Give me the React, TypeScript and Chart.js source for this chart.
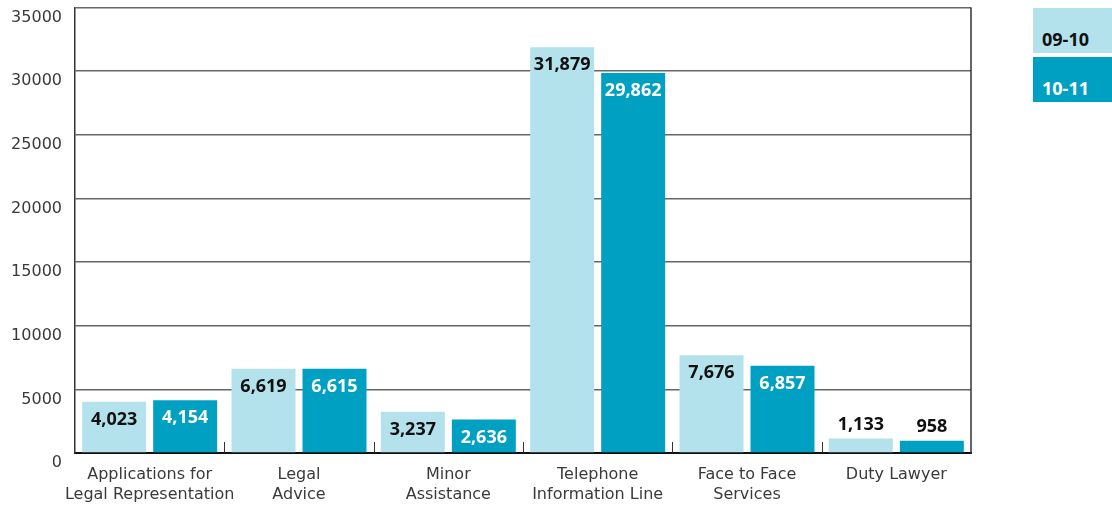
import React, { useEffect, useRef } from "react";
import { Chart, registerables } from "chart.js";

Chart.register(...registerables);

const categories: string[][] = [
  ["Applications for", "Legal Representation"],
  ["Legal", "Advice"],
  ["Minor", "Assistance"],
  ["Telephone", "Information Line"],
  ["Face to Face", "Services"],
  ["Duty Lawyer"],
];
const series0910: number[] = [4023, 6619, 3237, 31879, 7676, 1133];
const series1011: number[] = [4154, 6615, 2636, 29862, 6857, 958];
const seriesLabels: string[] = ["09-10", "10-11"];
const yTicks: number[] = [0, 5000, 10000, 15000, 20000, 25000, 30000, 35000];

const LIGHT = "#b3e1ec";
const DARK = "#00a0c2";
const AXIS_FONT = "'DejaVu Sans', sans-serif";
const BOLD_FONT = "'Open Sans', Lato, sans-serif";
const SHIFT = 15;

const fmt = (v: number) => v.toLocaleString("en-US");

const decorPlugin = {
  id: "decor",
  afterDatasetsDraw(chart: any) {
    const ctx = chart.ctx;
    const area = chart.chartArea;
    ctx.save();
    ctx.strokeStyle = "#333";
    ctx.lineWidth = 1.5;
    ctx.beginPath();
    ctx.moveTo(area.right, area.top);
    ctx.lineTo(area.right, area.bottom);
    ctx.stroke();
    ctx.lineWidth = 1;
    const n = chart.data.labels.length;
    const w = (area.right - area.left) / n;
    for (let i = 1; i < n; i++) {
      const x = Math.round(area.left + w * i) + 0.5;
      ctx.beginPath();
      ctx.moveTo(x, area.bottom);
      ctx.lineTo(x, area.bottom - 11);
      ctx.stroke();
    }
    ctx.font = `bold 18px ${BOLD_FONT}`;
    ctx.textAlign = "center";
    ctx.textBaseline = "middle";
    chart.data.datasets.forEach((ds: any, di: number) => {
      const meta = chart.getDatasetMeta(di);
      meta.data.forEach((bar: any, i: number) => {
        const v = ds.data[i];
        const h = bar.base - bar.y;
        if (h > 30) {
          ctx.fillStyle = di === 0 ? "#111" : "#fff";
          ctx.fillText(fmt(v), bar.x, bar.y + 18);
        } else {
          ctx.fillStyle = "#111";
          ctx.fillText(fmt(v), bar.x, bar.y - 14);
        }
      });
    });
    ctx.restore();
  },
};

export default function App() {
  const ref = useRef<HTMLCanvasElement | null>(null);
  useEffect(() => {
    if (!ref.current) return;
    const chart = new Chart(ref.current, {
      type: "bar",
      data: {
        labels: categories,
        datasets: [
          {
            label: seriesLabels[0],
            data: series0910,
            backgroundColor: LIGHT,
            categoryPercentage: 0.951,
            barPercentage: 0.901,
          },
          {
            label: seriesLabels[1],
            data: series1011,
            backgroundColor: DARK,
            categoryPercentage: 0.951,
            barPercentage: 0.901,
          },
        ],
      },
      options: {
        animation: false,
        responsive: false,
        maintainAspectRatio: false,
        layout: { padding: { top: 0, right: 141, left: 0, bottom: 0 } },
        plugins: {
          legend: { display: false },
          tooltip: { enabled: false },
        },
        scales: {
          x: {
            grid: { display: false, drawTicks: false },
            border: { display: true, color: "#111", width: 2 },
            ticks: {
              color: "#3a3a3a",
              font: { family: AXIS_FONT, size: 16, weight: "normal", lineHeight: 1.3 },
              padding: 11,
              maxRotation: 0,
              autoSkip: false,
            },
            afterFit(scale: any) {
              scale.height = 53;
            },
          },
          y: {
            min: 0,
            max: 35000,
            afterBuildTicks(scale: any) {
              scale.ticks = yTicks.map((v) => ({ value: v }));
            },
            grid: { color: "#666", lineWidth: 1.5, drawTicks: false },
            border: { display: true, color: "#333", width: 1.5 },
            ticks: {
              color: "#3a3a3a",
              font: { family: AXIS_FONT, size: 16, weight: "normal" },
              padding: 13,
              labelOffset: 10,
              callback: (v: any) => String(v),
            },
            afterFit(scale: any) {
              scale.width = 75;
            },
          },
        },
      },
      plugins: [decorPlugin],
    });
    return () => chart.destroy();
  }, []);

  const boxStyle = (bg: string, color: string, top: number): React.CSSProperties => ({
    position: "absolute",
    left: 1033,
    top,
    width: 79,
    height: 45,
    background: bg,
    color,
    fontFamily: BOLD_FONT,
    fontWeight: 700,
    fontSize: 18,
    boxSizing: "border-box",
    paddingLeft: 9,
    paddingTop: 19,
    lineHeight: "24px",
  });

  return (
    <div style={{ position: "fixed", left: 0, top: 0, width: 1112, height: 506, background: "#fff", overflow: "hidden" }}>
      <canvas
        ref={ref}
        width={1112}
        height={506 + SHIFT}
        style={{ position: "absolute", left: 0, top: -SHIFT, display: "block", width: 1112, height: 506 + SHIFT }}
      />
      <div style={boxStyle(LIGHT, "#111", 8)}>{seriesLabels[0]}</div>
      <div style={boxStyle(DARK, "#fff", 57)}>{seriesLabels[1]}</div>
    </div>
  );
}
